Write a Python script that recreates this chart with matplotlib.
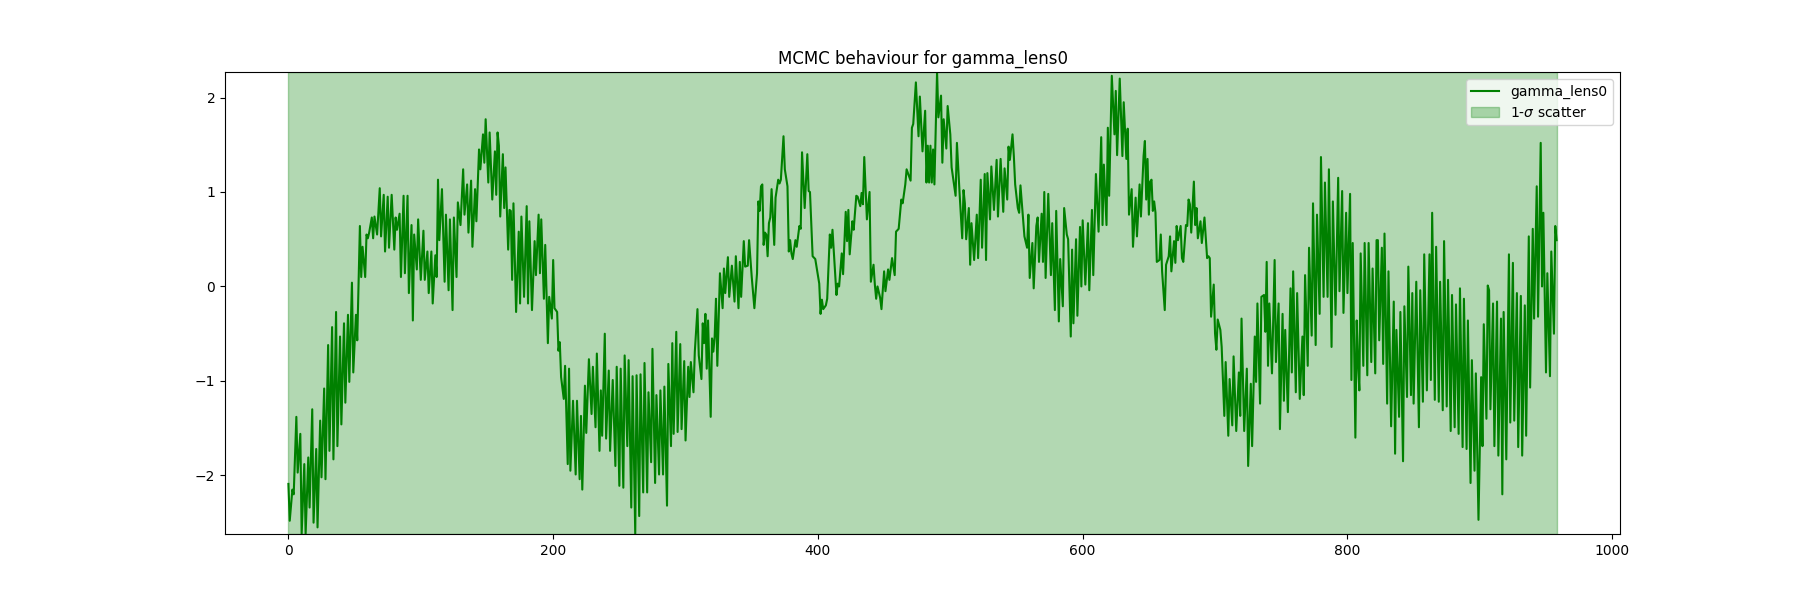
import numpy as np
import matplotlib
matplotlib.use("Agg")
import matplotlib.pyplot as plt

param = "gamma_lens0"

steps = [0, 1, 3, 4, 6, 7, 9, 10, 12, 13, 15, 16, 18, 19, 21, 22, 24, 25, 27, 28,
	30, 31, 33, 34, 36, 37, 39, 40, 42, 43, 45, 46, 48, 49, 51, 52, 53, 54, 55, 56,
	58, 59, 60, 61, 63, 64, 65, 67, 69, 70, 72, 73, 75, 76, 78, 80, 81, 82, 84, 85,
	87, 88, 90, 91, 93, 94, 95, 97, 98, 100, 102, 103, 105, 106, 108, 109, 111, 112, 113, 114,
	116, 118, 119, 121, 122, 124, 125, 127, 128, 130, 132, 133, 135, 136, 138, 139, 141, 142, 144, 145,
	147, 148, 149, 151, 152, 154, 156, 157,
	158, 159, 160, 162, 163, 164, 166, 167, 168, 169, 170, 172, 174, 175, 176, 178, 180, 181, 182, 184,
	186, 187, 189, 190, 191, 193, 194, 196, 197, 199, 200, 201, 203, 204, 205, 206, 208, 209, 211, 212,
	213, 215, 217, 218, 220, 221, 222, 224, 225, 227, 229, 230, 232, 233, 235, 236, 237, 239, 240, 242,
	243, 245, 247, 248, 250, 251, 253, 254, 256, 257, 259, 260, 262, 263, 265, 266, 268, 269, 271, 272,
	274, 275, 277, 278, 280, 281, 283, 284, 286, 287, 289, 290, 291, 293, 294, 296, 297, 299, 300, 302,
	303, 304, 306, 307, 309, 310, 312, 313, 314, 315, 316, 317, 319, 320,
	321, 322, 323, 324, 326, 328, 329, 330, 332, 333, 335, 337, 338, 340, 341, 342, 344, 345, 347, 348,
	350, 352, 354, 355, 356, 357, 358, 359, 360, 361, 362, 363, 364, 365, 367, 368, 370, 371, 372, 374,
	375, 377, 378, 379, 380, 381, 383, 384, 386, 387, 388, 390, 392, 393, 394, 396, 398, 400, 401, 402,
	403, 404, 406, 407, 409, 410, 411, 413, 414, 415, 416, 418, 419, 421, 422, 423, 424, 426, 427, 429,
	430, 432, 433, 434, 435, 437, 439, 440, 442, 443, 444, 445, 447, 448, 450, 451, 453, 454, 456, 458,
	459, 461, 463, 464, 466, 467, 470, 471, 472, 474, 476, 477, 479, 481, 482,
	483, 484, 485, 486, 487, 488, 490, 491, 493, 494, 495, 497, 498, 500, 501, 504, 505, 507, 509, 510,
	511, 512, 514, 515, 516, 518, 520, 521, 523, 524, 526, 527, 528, 530, 531, 533, 535, 536, 538, 540,
	541, 543, 544, 545, 547, 548, 549, 551, 552, 553, 555, 556, 558, 559, 560, 562, 563, 565, 566, 567,
	569, 570, 571, 572, 574, 576, 577, 579, 580, 582, 583, 585, 586, 588, 589, 591, 592, 593, 595, 596,
	598, 599, 600, 602, 604, 605, 607, 608, 610, 612, 614, 615, 616, 618, 619, 620, 622, 624, 625, 626,
	628, 630, 631, 633, 634, 635, 637, 638, 640, 641, 643, 644,
	646, 647, 648, 649, 650, 651, 652, 653, 654, 655, 656, 658, 659, 660, 662, 663, 665, 666, 667, 669,
	670, 671, 672, 674, 675, 676, 678, 679, 680, 681, 682, 684, 685, 686, 687, 689, 690, 692, 694, 695,
	696, 697, 699, 700, 701, 702, 704, 705, 707, 708, 710, 711, 713, 714, 716, 718, 719, 720, 722, 724,
	725, 727, 728, 730, 731, 732, 734, 735, 737, 738, 739, 740, 741, 743, 745, 746, 748, 749, 751, 752,
	753, 755, 757, 758, 759, 761, 762, 764, 766, 767, 768, 770, 771, 773, 774, 776, 777, 779, 780, 782,
	783, 785, 786, 788, 789, 791, 793, 794, 796, 797, 799, 800, 802, 803, 804, 806, 807,
	808, 809, 810, 812, 813, 815, 816, 818, 819, 821, 822, 823, 824, 826, 827, 828, 830, 831, 833, 835,
	836, 837, 839, 840, 842, 843, 845, 846, 848, 849, 850, 852, 854, 855, 857, 858, 860, 862, 863, 864,
	866, 867, 869, 870, 872, 873, 875, 876, 878, 879, 881, 882, 884, 885, 887, 888, 890, 891, 893, 894,
	896, 897, 899, 901, 902, 903, 905, 906, 907, 908, 910, 911, 913, 914, 916, 917, 918, 920, 922, 923,
	925, 926, 928, 929, 931, 932, 934, 935, 937, 938, 940, 941, 943, 944, 946, 947, 948, 950, 951, 953,
	954, 956, 957, 958]

gamma = [-2.09, -2.48, -2.15, -2.20, -1.38, -1.97, -1.56, -2.62, -1.88, -2.62, -1.81, -2.34, -1.30, -2.50, -1.72, -2.55, -1.42, -2.02, -1.08, -2.04,
	-0.62, -1.74, -0.43, -1.83, -0.27, -1.69, -0.53, -1.46, -0.39, -1.23, -0.30, -1.01, 0.04, -0.91, -0.30, -0.57, 0.03, 0.64, 0.10, 0.42,
	0.10, 0.55, 0.51, 0.57, 0.73, 0.51, 0.74, 0.55, 1.04, 0.53, 0.97, 0.37, 0.95, 0.41, 0.97, 0.39, 0.73, 0.60, 0.77, 0.10,
	0.96, 0.14, 0.96, -0.07, 0.65, -0.36, 0.55, 0.18, 0.71, 0.07, 0.59, 0.07, 0.37, -0.07, 0.37, -0.18, 0.33, 0.10, 1.13, 0.49,
	1.03, 0.05, 0.76, -0.04, 0.71, -0.25, 0.73, 0.10, 0.89, 0.65, 1.24, 0.76, 1.08, 0.57, 1.12, 0.42, 1.03, 0.69, 1.45, 1.24,
	1.61, 1.31, 1.77, 1.10, 1.63, 0.92, 1.43, 0.97,
	1.63, 1.49, 0.74, 1.40, 0.83, 1.26, 0.39, 0.81, 0.80, 0.07, 0.88, -0.27, 0.58, -0.18, 0.74, -0.11, 0.85, -0.18, 0.69, -0.25,
	0.48, 0.12, 0.76, 0.14, 0.71, -0.13, 0.44, -0.60, -0.11, -0.34, 0.28, -0.23, -0.27, -0.68, -0.59, -0.96, -1.19, -0.84, -1.88, -0.87,
	-1.95, -1.21, -1.99, -1.21, -2.04, -1.37, -2.15, -1.05, -1.55, -0.77, -1.35, -0.85, -1.49, -0.71, -1.74, -1.10, -1.58, -0.50, -1.61, -0.89,
	-1.74, -0.99, -1.90, -0.85, -2.11, -0.87, -2.13, -0.73, -1.69, -0.78, -2.34, -0.95, -2.62, -0.94, -2.43, -0.93, -2.18, -0.81, -2.18, -1.12,
	-1.86, -0.66, -2.08, -1.15, -1.99, -1.10, -1.99, -1.06, -2.32, -0.82, -1.69, -0.60, -1.56, -0.48, -1.54, -0.61, -1.51, -0.79, -1.63, -0.85,
	-1.17, -0.80, -1.12, -0.69, -0.24, -0.73, -0.98, -0.39, -0.60, -0.29, -0.87, -0.36, -1.38, -0.55,
	-0.69, -0.53, -0.13, -0.84, 0.14, -0.23, 0.19, -0.07, 0.31, -0.11, 0.22, -0.16, 0.32, -0.23, 0.26, -0.11, 0.48, 0.21, 0.22, 0.49,
	0.10, -0.23, 0.14, 0.90, 0.80, 1.06, 1.08, 0.44, 0.57, 0.55, 0.32, 0.67, 0.73, 1.03, 0.44, 0.94, 1.13, 1.09, 1.13, 1.59,
	1.24, 1.06, 0.37, 0.49, 0.35, 0.29, 0.49, 0.42, 0.64, 0.61, 1.42, 0.83, 1.40, 1.01, 1.00, 0.32, 0.29, 0.12, 0.03, -0.29,
	-0.14, -0.24, -0.20, -0.13, 0.55, 0.41, 0.60, 0.14, -0.09, 0.03, 0.00, 0.35, 0.13, 0.79, 0.48, 0.81, 0.34, 0.69, 0.60, 0.96,
	0.95, 0.85, 0.99, 0.87, 1.37, 0.71, 1.00, 0.05, 0.23, 0.02, -0.13, 0.00, -0.12, -0.24, 0.16, -0.05, 0.18, 0.07, 0.30, 0.12,
	0.58, 0.61, 0.92, 0.88, 1.08, 1.24, 1.12, 1.68, 1.72, 2.16, 1.59, 2.01, 1.43, 1.86, 1.10,
	1.49, 1.10, 1.49, 1.10, 1.45, 1.08, 2.27, 1.79, 2.02, 1.31, 1.77, 1.46, 1.91, 1.61, 1.26, 0.96, 1.52, 0.99, 0.51, 1.02,
	0.88, 0.50, 0.83, 0.23, 0.67, 0.28, 0.76, 0.30, 1.13, 0.41, 1.19, 0.28, 1.20, 0.71, 1.27, 0.81, 1.34, 0.74, 1.35, 0.79,
	1.25, 0.92, 1.48, 1.34, 1.61, 1.38, 1.08, 0.83, 0.78, 1.07, 0.71, 0.53, 0.41, 0.76, 0.09, 0.46, -0.02, 0.64, 0.73, 0.26,
	0.77, 0.26, 1.00, 0.09, 0.98, 0.12, 0.67, -0.25, 0.80, -0.37, 0.29, -0.21, 0.83, 0.55, 0.50, -0.53, 0.39, -0.39, 0.50, -0.31,
	0.63, 0.00, 0.70, 0.02, 0.67, -0.04, 0.81, 0.12, 1.19, 0.58, 1.58, 0.65, 1.29, 0.65, 1.68, 0.96, 2.23, 1.61, 2.07, 1.39,
	2.20, 1.38, 1.95, 1.35, 1.67, 0.76, 1.03, 0.42, 0.94, 0.53, 1.08, 0.74,
	1.38, 1.54, 0.92, 1.35, 0.76, 1.11, 1.13, 0.80, 0.90, 0.78, 0.26, 0.28, 0.55, 0.16, -0.25, 0.23, 0.32, 0.53, 0.16, 0.48,
	0.25, 0.64, 0.49, 0.64, 0.30, 0.26, 0.65, 0.64, 0.92, 0.87, 0.57, 1.11, 0.65, 0.83, 0.51, 0.69, 0.46, 0.73, 0.30, 0.32,
	0.30, -0.32, 0.02, -0.50, -0.67, -0.35, -0.46, -0.64, -1.37, -0.80, -1.58, -0.98, -1.47, -0.74, -1.53, -0.91, -1.37, -0.34, -1.53, -0.87,
	-1.90, -1.03, -1.69, -0.53, -1.01, -0.18, -1.24, -0.11, -0.09, -0.48, 0.26, -0.84, -0.18, -0.92, 0.28, -0.80, -0.18, -1.51, -0.29, -1.21,
	-0.46, -1.33, -0.02, -0.91, 0.16, -1.12, -0.07, -1.19, -0.53, -1.15, 0.12, -0.84, 0.41, -0.52, 0.88, -0.62, 0.76, -0.29, 1.37, -0.11,
	1.10, -0.11, 1.24, -0.64, 0.90, -0.30, 1.15, -0.05, 1.01, -0.28, 0.78, -0.07, 0.98, -0.99, 0.46, -1.60, -0.36,
	-0.82, -1.10, 0.35, -0.84, 0.46, -0.94, 0.46, -0.80, 0.19, -0.92, 0.49, 0.49, -0.57, 0.41, -0.82, 0.56, -1.24, 0.16, -1.48, -0.16,
	-1.77, -0.46, -1.38, -0.27, -1.85, -0.21, -1.17, 0.21, -1.15, -0.07, -1.24, 0.05, -1.49, -0.04, -1.22, 0.34, -1.10, 0.34, -0.99, 0.78,
	-1.20, 0.42, -1.22, 0.05, -1.31, 0.48, -1.27, 0.07, -1.53, -0.09, -1.49, -0.19, -1.56, -0.02, -1.70, -0.13, -1.72, -0.36, -2.08, -0.78,
	-1.95, -0.92, -2.47, -0.96, -1.69, -0.40, -1.40, 0.01, -0.04, -1.30, -0.18, -1.69, -0.16, -1.79, -0.34, -2.20, -0.27, -1.83, 0.34, -1.44,
	0.25, -1.42, -0.07, -1.70, -0.10, -1.79, -0.20, -1.58, 0.53, -1.07, 0.61, -0.34, 1.06, -0.32, 1.52, 0.00, 0.78, -0.91, 0.14, -0.95,
	0.37, -0.50, 0.64, 0.49]

fig = plt.figure(figsize=(18, 6), dpi=100)
ax = fig.add_subplot(111)
ax.plot(steps, gamma, c='green', label=param)
# scatter band covers the whole axis height
ax.fill_between([steps[0], steps[-1]], 0, 1, color='green', alpha=0.3,
	transform=ax.get_xaxis_transform(), label=r'1-$\sigma$ scatter')
ax.set_ylim(min(gamma), max(gamma))
ax.set_title("MCMC behaviour for " + param)
ax.legend(loc='upper right')
fig.savefig("out.png")
